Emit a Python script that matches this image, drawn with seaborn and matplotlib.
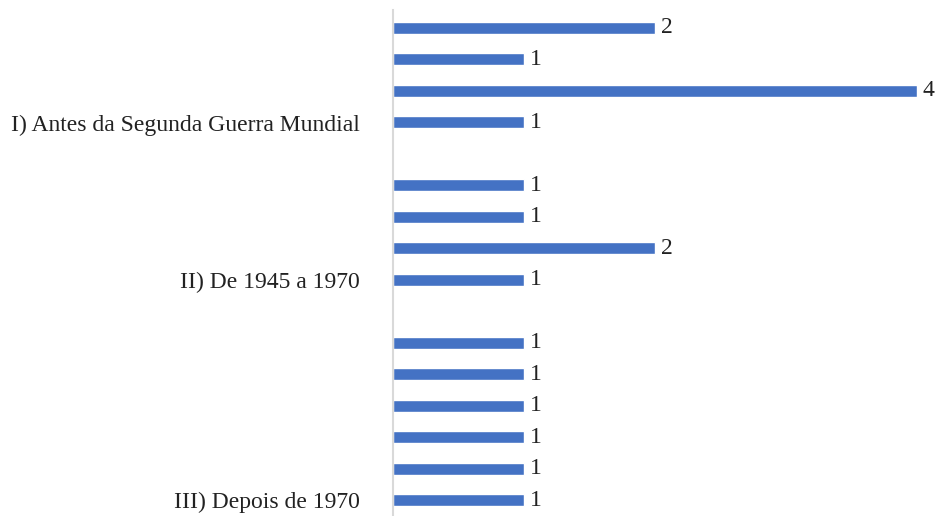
import matplotlib
matplotlib.use("Agg")
import pandas as pd
import matplotlib.pyplot as plt
import seaborn as sns

GROUPS = ["I) Antes da Segunda Guerra Mundial", "II) De 1945 a 1970", "III) Depois de 1970"]
VALUES_I = [2, 1, 4, 1]
VALUES_II = [1, 1, 2, 1]
VALUES_III = [1, 1, 1, 1, 1, 1]

BLUE = "#4472C4"
AXIS_GRAY = "#D9D9D9"
FS = 17

sns.set_style("white")
plt.rcParams["font.family"] = ["Liberation Serif", "DejaVu Serif"]

# build category keys, one empty slot between groups
rows, order, labels = [], [], []
for g, (name, vals) in enumerate(zip(GROUPS, [VALUES_I, VALUES_II, VALUES_III])):
    if g > 0:
        order.append(f"gap{g}")
        labels.append("")
    for i, v in enumerate(vals):
        key = f"g{g}_{i}"
        rows.append({"key": key, "value": v})
        order.append(key)
        labels.append(name if i == len(vals) - 1 else "")
df = pd.DataFrame(rows)

fig = plt.figure(figsize=(9.47, 5.16), dpi=100)
ax = fig.add_axes([393 / 947, 0.0, (917 - 393) / 947, 1 - 10 / 516])

sns.barplot(data=df, x="value", y="key", order=order, color=BLUE,
            width=0.38, orient="h", saturation=1, ax=ax)
ax.bar_label(ax.containers[0], padding=4, fontsize=FS, color="#222222")

ax.set_xlim(0, 4)
ax.set_ylim(len(order) - 0.5, -0.57)
ax.set_yticks(range(len(order)))
ax.set_yticklabels(labels, fontsize=FS, color="#222222")
ax.tick_params(axis="y", length=0, pad=24)
ax.set_xticks([])
ax.set_xlabel("")
ax.set_ylabel("")
for side in ["top", "right", "bottom"]:
    ax.spines[side].set_visible(False)
ax.spines["left"].set_color(AXIS_GRAY)
ax.spines["left"].set_linewidth(1.5)

fig.savefig("out.png", dpi=100)
